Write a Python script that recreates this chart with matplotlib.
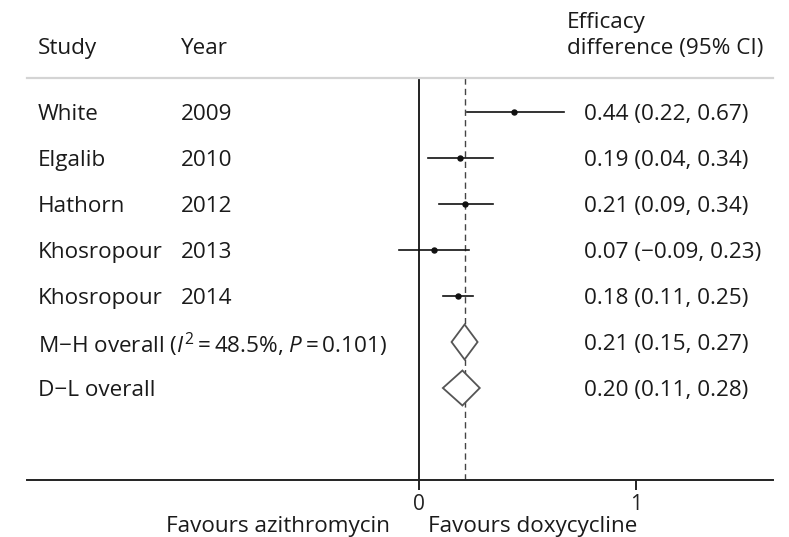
import matplotlib
matplotlib.use("Agg")
import matplotlib.pyplot as plt
from matplotlib.patches import Polygon

plt.rcParams['font.family'] = ['Open Sans', 'DejaVu Sans']
plt.rcParams['mathtext.fontset'] = 'custom'
plt.rcParams['mathtext.rm'] = 'Open Sans'
plt.rcParams['mathtext.it'] = 'Open Sans:italic'

# ---- data ----
studies = ["White", "Elgalib", "Hathorn", "Khosropour", "Khosropour"]
years = ["2009", "2010", "2012", "2013", "2014"]
est = [0.44, 0.19, 0.21, 0.07, 0.18]
lo = [0.22, 0.04, 0.09, -0.09, 0.11]
hi = [0.67, 0.34, 0.34, 0.23, 0.25]

pooled_names = ["M\u2212H overall (" + r"$I^{2}$" + "\u2009=\u200948.5%, " + r"$P$" + "\u2009=\u20090.101)",
                "D\u2212L overall"]
pooled_est = [0.21, 0.20]
pooled_lo = [0.15, 0.11]
pooled_hi = [0.27, 0.28]

xticks = [0, 1]
left_label = "Favours azithromycin"
right_label = "Favours doxycycline"


def fmt(v):
    s = f"{abs(v):.2f}"
    return ("\u2212" + s) if v < 0 else s


W, H = 789, 537
fig = plt.figure(figsize=(W / 100, H / 100), dpi=100)

# pixel geometry
x0_px, x1_px = 419, 636
scale = x1_px - x0_px
ax_l, ax_r = 27, 773
ax_t, ax_b = 78, 480
row0_px, row_step = 112, 46

ax = fig.add_axes([ax_l / W, 1 - ax_b / H, (ax_r - ax_l) / W, (ax_b - ax_t) / H])
ax.set_xlim((ax_l - x0_px) / scale, (ax_r - x0_px) / scale)
ax.set_ylim((ax_b - row0_px) / row_step, (ax_t - row0_px) / row_step)

for s in ['left', 'right']:
    ax.spines[s].set_visible(False)
ax.spines['top'].set_color('#d4d4d4')
ax.spines['top'].set_linewidth(1.6)
ax.spines['bottom'].set_color('#222222')
ax.spines['bottom'].set_linewidth(1.4)
ax.set_yticks([])
ax.set_xticks(xticks)
ax.set_xticklabels([str(t) for t in xticks], fontsize=15, color='#222222')
ax.tick_params(axis='x', length=7, width=1.4, color='#222222', pad=3)

text_color = '#1a1a1a'
# vertical reference lines
ax.axvline(0, color='#111111', lw=1.3, zorder=1)
ax.axvline(pooled_est[0], color='#444444', lw=1.0, ls=(0, (4.5, 3)), zorder=1)

n = len(studies)
fs = 16.2
va = 'center_baseline'
trans_px = lambda px: (px - x0_px) / scale
for i in range(n):
    ax.plot([lo[i], hi[i]], [i, i], color='#111111', lw=1.2, zorder=3)
    ax.plot(est[i], i, 'o', color='#111111', ms=3.6, zorder=4)
    ax.text(trans_px(38), i, studies[i], fontsize=fs, color=text_color, va=va, ha='left')
    ax.text(trans_px(181), i, years[i], fontsize=fs, color=text_color, va=va, ha='left')
    ax.text(trans_px(584), i, f"{fmt(est[i])} ({fmt(lo[i])}, {fmt(hi[i])})",
            fontsize=fs, color=text_color, va=va, ha='left')

half_h = 17.5 / row_step
for j in range(len(pooled_names)):
    y = n + j
    poly = Polygon([[pooled_lo[j], y], [pooled_est[j], y - half_h],
                    [pooled_hi[j], y], [pooled_est[j], y + half_h]],
                   closed=True, facecolor='white', edgecolor='#555555', lw=1.3, zorder=3)
    ax.add_patch(poly)
    ax.text(trans_px(38), y, pooled_names[j], fontsize=fs, color=text_color, va=va, ha='left')
    ax.text(trans_px(584), y, f"{fmt(pooled_est[j])} ({fmt(pooled_lo[j])}, {fmt(pooled_hi[j])})",
            fontsize=fs, color=text_color, va=va, ha='left')

# headers
hy = (46 - row0_px) / row_step
ax.text(trans_px(38), hy, "Study", fontsize=fs, color=text_color, va=va, ha='left', clip_on=False)
ax.text(trans_px(181), hy, "Year", fontsize=fs, color=text_color, va=va, ha='left', clip_on=False)
ax.text(trans_px(567), (20 - row0_px) / row_step, "Efficacy", fontsize=fs, color=text_color,
        va=va, ha='left', clip_on=False)
ax.text(trans_px(567), hy, "difference (95% CI)", fontsize=fs, color=text_color,
        va=va, ha='left', clip_on=False)

# favours labels
fy = (524 - row0_px) / row_step
ax.text(trans_px(390), fy, left_label, fontsize=fs, color=text_color, va=va, ha='right', clip_on=False)
ax.text(trans_px(428), fy, right_label, fontsize=fs, color=text_color, va=va, ha='left', clip_on=False)

fig.savefig("out.png", dpi=100)
